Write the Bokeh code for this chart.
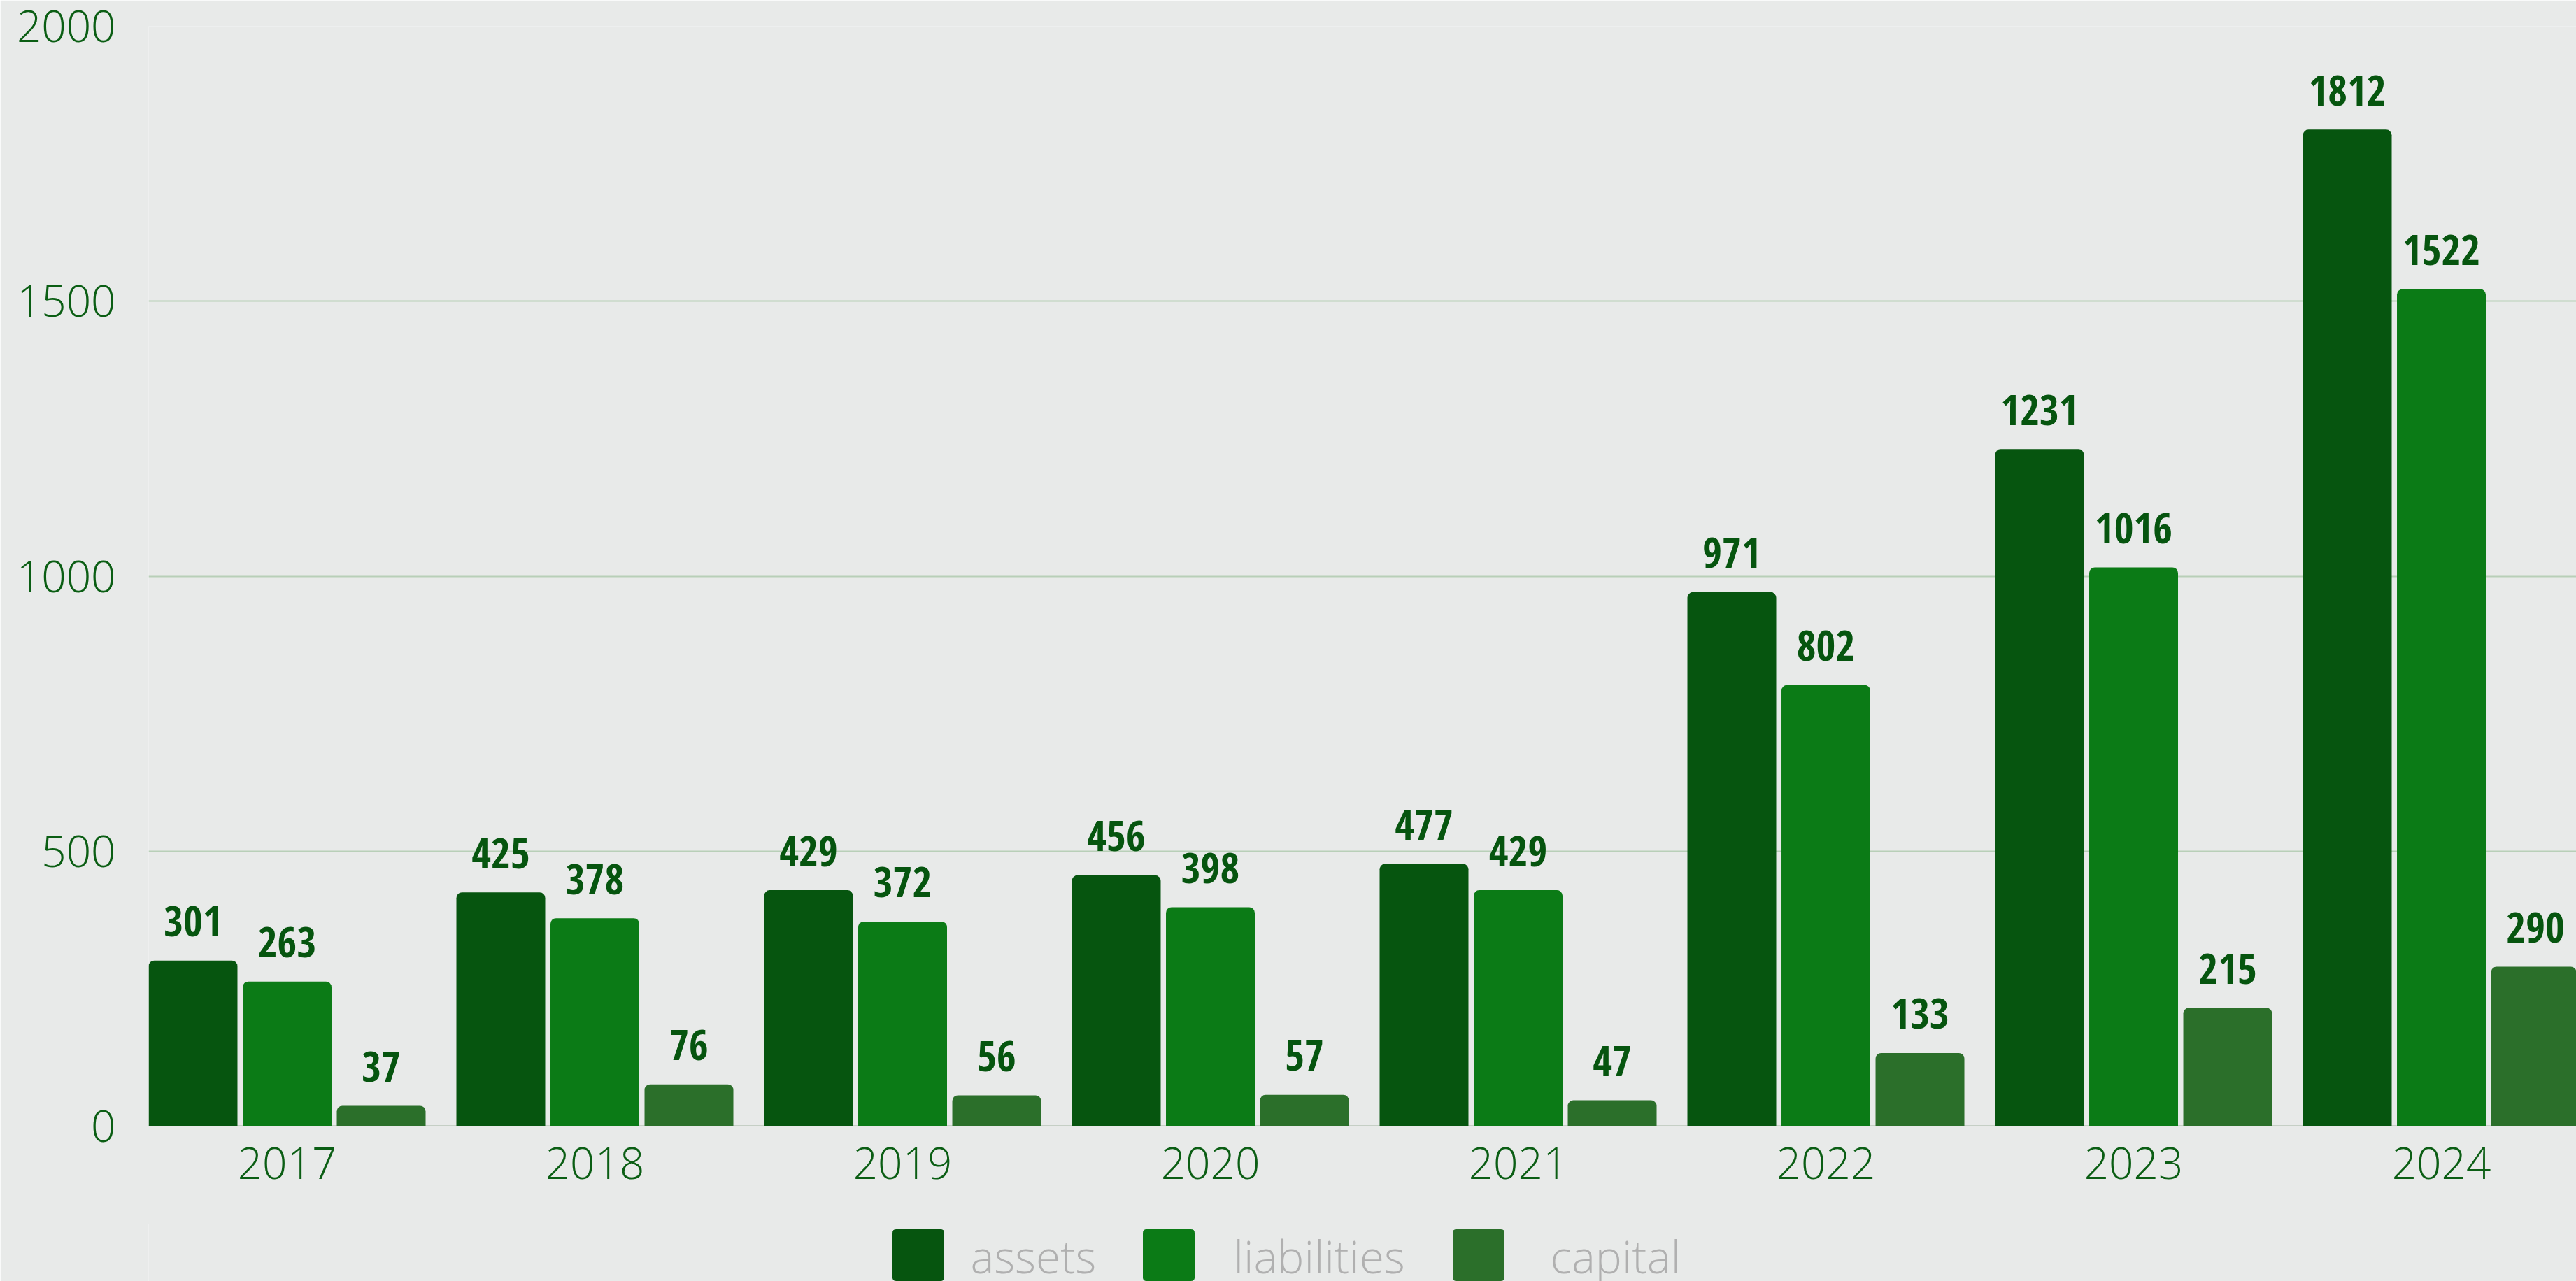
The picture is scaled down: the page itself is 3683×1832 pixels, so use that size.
from bokeh.plotting import figure
from bokeh.layouts import column
from bokeh.models import (Range1d, FixedTicker, ColumnDataSource, Span)
from bokeh.core.properties import value
from bokeh.embed import file_html
from bokeh.resources import INLINE

years = ["2017", "2018", "2019", "2020", "2021", "2022", "2023", "2024"]
assets = [301, 425, 429, 456, 477, 971, 1231, 1812]
liabilities = [263, 378, 372, 398, 429, 802, 1016, 1522]
capital = [37, 76, 56, 57, 47, 133, 215, 290]
y_ticks = [0, 500, 1000, 1500, 2000]

series_names = ["assets", "liabilities", "capital"]
series_values = [assets, liabilities, capital]
series_colors = ["#06550f", "#0b7b16", "#2b6f2a"]

BG = "#e8eae9"
TICK_COLOR = "#0b5e14"
LABEL_COLOR = "#06550f"
AXIS_FONT = "Open Sans Light"
VALUE_FONT = "Open Sans Condensed"

W = 3683
LEFT = 212
MAIN_H = 1750
LEG_H = 1832 - MAIN_H

p = figure(width=W, height=MAIN_H, output_backend="svg", toolbar_location=None,
           x_range=Range1d(-0.45, 7.4386), y_range=Range1d(0, 2000),
           min_border_left=LEFT, min_border_right=0, min_border_top=37,
           min_border_bottom=MAIN_H - 1610)
p.background_fill_color = BG
p.border_fill_color = BG
p.outline_line_color = None

p.xgrid.grid_line_color = None
p.ygrid.ticker = FixedTicker(ticks=[500, 1000, 1500, 2000])
p.ygrid.grid_line_color = "#b8cfb8"
p.ygrid.grid_line_width = 2

p.add_layout(Span(location=0, dimension="width", line_color="#a2b4a2",
                  line_width=2, level="underlay"))

idx = list(range(len(years)))
offsets = [-0.3057, 0.0, 0.3057]
bar_w = 0.2886

for vals, color, off in zip(series_values, series_colors, offsets):
    xs = [i + off for i in idx]
    src = ColumnDataSource(dict(x=xs, top=vals, label=[str(v) for v in vals]))
    p.vbar(x="x", top="top", width=bar_w, bottom=0, source=src,
           fill_color=color, line_color=color, line_width=0,
           border_radius=(8, 8, 0, 0))
    p.text(x="x", y="top", text="label", source=src, y_offset=-56,
           text_align="center", text_baseline="alphabetic",
           text_font=value(VALUE_FONT), text_font_style="bold",
           text_font_size="60px", text_color=LABEL_COLOR)

p.xaxis.ticker = FixedTicker(ticks=idx)
p.xaxis.major_label_overrides = {i: y for i, y in zip(idx, years)}
p.yaxis.ticker = FixedTicker(ticks=y_ticks)
for ax in (p.xaxis, p.yaxis):
    ax.axis_line_color = None
    ax.major_tick_line_color = None
    ax.minor_tick_line_color = None
    ax.major_label_text_font = AXIS_FONT
    ax.major_label_text_font_size = "62px"
    ax.major_label_text_color = TICK_COLOR
p.yaxis.major_label_standoff = 41
p.xaxis.major_label_standoff = 24

# legend strip below the chart (pixel-coordinate frame, aligned with main frame)
lg = figure(width=W, height=LEG_H, output_backend="svg", toolbar_location=None,
            x_range=Range1d(LEFT, W), y_range=Range1d(LEG_H, 0),
            min_border_left=LEFT, min_border_right=0,
            min_border_top=0, min_border_bottom=0)
lg.axis.visible = False
lg.grid.visible = False
lg.background_fill_color = BG
lg.border_fill_color = BG
lg.outline_line_color = None

sw = 73
sw_left = [1276, 1634, 2077]
txt_left = [1387, 1763, 2216]
lg.rect(x=[s + sw / 2 for s in sw_left], y=[8 + sw / 2] * 3, width=sw, height=sw,
        fill_color=series_colors, line_color=series_colors,
        border_radius=4)
lg.text(x=txt_left, y=[46] * 3, text=series_names, text_align="left",
        text_baseline="alphabetic", text_font=value(AXIS_FONT),
        text_font_size="64px", text_color="#b0b0b0")

layout = column(p, lg, spacing=0)
open("out.html", "w").write(file_html(layout, INLINE))
